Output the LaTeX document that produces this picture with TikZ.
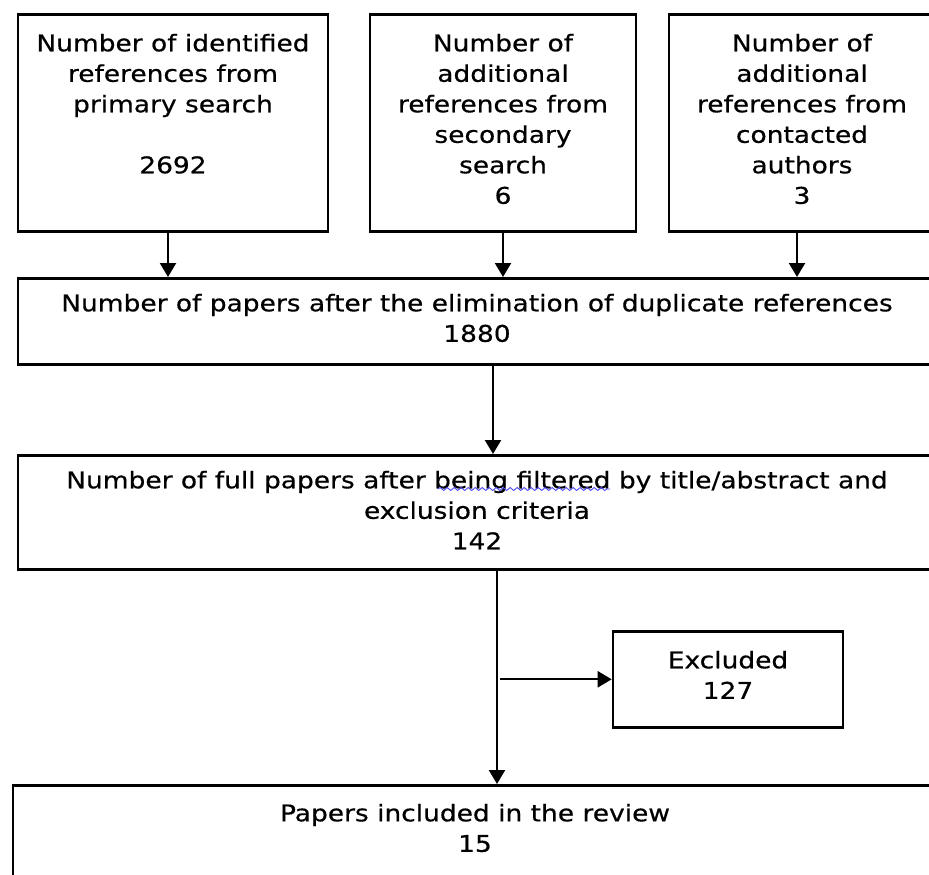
\documentclass[tikz,border=0pt]{standalone}
\usepackage{fontspec}
\setmainfont[FakeStretch=1.15, FakeBold=0.5]{DejaVu Sans}
\usetikzlibrary{arrows.meta, decorations.pathmorphing}

% Zeilen oben buendig
\newcommand{\zeilen}[1]{\begin{tabular}[t]{@{}c@{}}#1\end{tabular}}

\tikzset{
	kasten/.style={draw, line width=2.6pt, anchor=north, inner xsep=0pt, inner ysep=0pt,
		text height=37pt, font=\fontsize{23}{30.5}\selectfont},
	pfeil/.style={line width=2.2pt, -{Triangle[length=14pt,width=16pt]}},
	wellig/.style={blue!70, line width=0.9pt, decorate, decoration={snake, segment length=7pt, amplitude=1.5pt}},
}

\begin{document}
\begin{tikzpicture}[x=1pt, y=-1pt]
	\useasboundingbox (0,0) rectangle (929,875);
	\clip (0,0) rectangle (929,875);
	% Obere Kaesten
	\node [kasten, minimum width=310pt, text depth=180pt] (prim) at (173,13) {\zeilen{Number of identified\\references from\\primary search\\[30.5pt]2692}};
	\node [kasten, minimum width=266pt, text depth=180pt] (sek) at (503,13) {\zeilen{Number of\\additional\\references from\\secondary\\search\\6}};
	\node [kasten, minimum width=266pt, text depth=180pt] (aut) at (802,13) {\zeilen{Number of\\additional\\references from\\contacted\\authors\\3}};
	% Mittlere Kaesten
	\node [kasten, minimum width=918pt, text height=33pt, text depth=53pt] (dup) at (477,277) {\zeilen{Number of papers after the elimination of duplicate references\\1880}};
	\node [kasten, minimum width=918pt, text height=33pt, text depth=81pt] (voll) at (477,454) {\zeilen{Number of full papers after being filtered by title/abstract and\\exclusion criteria\\142}};
	\node [kasten, minimum width=230pt, text depth=59pt] (excl) at (728,630) {\zeilen{Excluded\\127}};
	% Unterer Kasten
	\node [kasten, minimum width=924pt, text height=36pt, text depth=150pt] (incl) at (475,784) {\zeilen{Papers included in the review\\15}};
	% Rechtschreib-Welle
	\draw [wellig] (438,489) -- (610,489);
	% Pfeile
	\coordinate (p1) at ([xshift=-5pt]prim.south);
	\coordinate (p3) at ([xshift=-5pt]aut.south);
	\draw [pfeil] (p1) -- (p1 |- dup.north);
	\draw [pfeil] (sek.south) -- (sek.south |- dup.north);
	\draw [pfeil] (p3) -- (p3 |- dup.north);
	\coordinate (d) at ([xshift=16pt]dup.south);
	\draw [pfeil] (d) -- (d |- voll.north);
	\coordinate (t) at ([xshift=20pt]voll.south);
	\draw [pfeil] (t) -- (t |- incl.north);
	\coordinate (a) at (t |- excl.west);
	\draw [pfeil] ([xshift=3pt]a) -- (excl.west);
\end{tikzpicture}
\end{document}
